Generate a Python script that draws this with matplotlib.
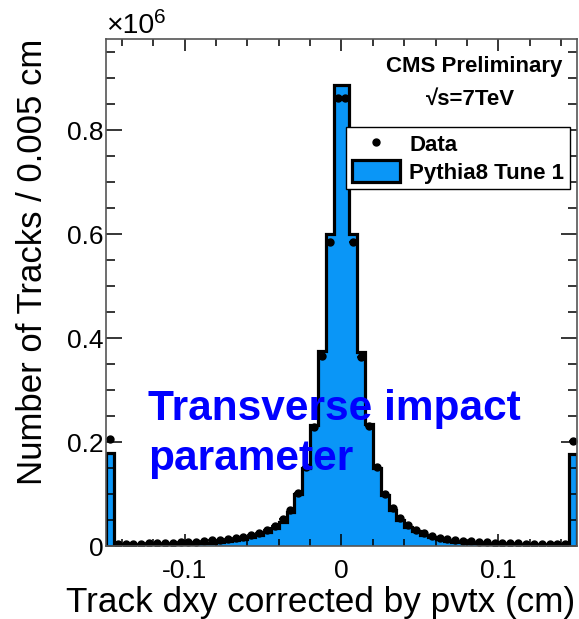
import numpy as np
import matplotlib
matplotlib.use('Agg')
import matplotlib.pyplot as plt
from matplotlib.ticker import MultipleLocator, FuncFormatter
from matplotlib.patches import Patch
from matplotlib.lines import Line2D

plt.rcParams['font.family'] = ['Liberation Sans', 'DejaVu Sans']
plt.rcParams['axes.unicode_minus'] = False

# binning: 60 bins of 0.005 cm, under/overflow folded into the edge bins
edges = np.linspace(-0.15, 0.15, 61)

# number of tracks per bin, in units of 10^6
mc_counts = [
    0.178, 0.0020, 0.0020, 0.0022, 0.0024, 0.0026, 0.0029, 0.0032, 0.0036, 0.0040,
    0.0045, 0.0050, 0.0057, 0.0065, 0.0075, 0.0090, 0.0110, 0.0135, 0.0170, 0.0210,
    0.0270, 0.0350, 0.0470, 0.0660, 0.1000, 0.1500, 0.2320, 0.3750, 0.6000, 0.8860,
    0.8860, 0.6000, 0.3730, 0.2340, 0.1500, 0.0990, 0.0700, 0.0500, 0.0370, 0.0280,
    0.0220, 0.0170, 0.0130, 0.0105, 0.0085, 0.0072, 0.0060, 0.0052, 0.0045, 0.0040,
    0.0036, 0.0032, 0.0029, 0.0026, 0.0024, 0.0022, 0.0021, 0.0020, 0.0020, 0.177,
]
data_counts = [
    0.205, 0.0040, 0.0042, 0.0045, 0.0048, 0.0050, 0.0055, 0.0060, 0.0065, 0.0070,
    0.0078, 0.0085, 0.0095, 0.0110, 0.0120, 0.0135, 0.0155, 0.0180, 0.0210, 0.0250,
    0.0310, 0.0390, 0.0510, 0.0690, 0.1020, 0.1520, 0.2280, 0.3650, 0.5850, 0.8620,
    0.8620, 0.5850, 0.3640, 0.2300, 0.1510, 0.1000, 0.0730, 0.0540, 0.0400, 0.0310,
    0.0250, 0.0200, 0.0160, 0.0135, 0.0115, 0.0100, 0.0088, 0.0078, 0.0070, 0.0064,
    0.0058, 0.0054, 0.0050, 0.0047, 0.0045, 0.0043, 0.0042, 0.0041, 0.0040, 0.202,
]

fill_blue = '#0a96f7'
frame_col = '#555555'

fig = plt.figure(figsize=(5.79, 6.19), dpi=100)
ax = fig.add_axes([0.1831, 0.1179, 0.8134, 0.8191])

centers = 0.5 * (edges[:-1] + edges[1:])
ax.stairs(mc_counts, edges, fill=True, color=fill_blue, zorder=1)
ax.stairs(mc_counts, edges, color='black', lw=2.3, zorder=2)
ax.errorbar(centers, data_counts, xerr=0.0025, fmt='o', color='black',
            ms=5, elinewidth=1.2, capsize=0, zorder=3)

ax.set_xlim(-0.15, 0.15)
ax.set_ylim(0, 0.975)

ax.xaxis.set_major_locator(MultipleLocator(0.1))
ax.xaxis.set_minor_locator(MultipleLocator(0.02))
ax.yaxis.set_major_locator(MultipleLocator(0.2))
ax.yaxis.set_minor_locator(MultipleLocator(0.05))
fmt = FuncFormatter(lambda v, pos: '%g' % round(v, 3))
ax.xaxis.set_major_formatter(fmt)
ax.yaxis.set_major_formatter(fmt)

ax.tick_params(which='both', direction='in', top=True, right=True,
               colors='black', labelsize=19, width=1.1)
ax.tick_params(axis='y', which='major', length=11.5, pad=2)
ax.tick_params(axis='y', which='minor', length=6.5)
ax.tick_params(axis='x', which='major', length=8.5, pad=9)
ax.tick_params(axis='x', which='minor', length=5)
for side in ax.spines.values():
    side.set_color(frame_col)
    side.set_linewidth(1.2)
    side.set_zorder(5)

ax.set_xlabel('Track dxy corrected by pvtx (cm)', fontsize=25.3, loc='right')
ax.xaxis.set_label_coords(0.996, -0.079)
ax.set_ylabel('Number of Tracks / 0.005 cm', fontsize=25, loc='top')
ax.yaxis.set_label_coords(-0.122, 1.0)

# axis multiplier above the y axis
ax.text(0.0, 1.0118, '×10', transform=ax.transAxes,
        fontsize=20.5, ha='left', va='baseline')
ax.text(0.102, 1.0316, '6', transform=ax.transAxes,
        fontsize=15, ha='left', va='baseline')

ax.text(0.781, 0.945, 'CMS Preliminary', transform=ax.transAxes,
        fontsize=16, fontweight='bold', ha='center', va='center')
ax.text(0.775, 0.880, '√s=7TeV', transform=ax.transAxes,
        fontsize=16, fontweight='bold', ha='center', va='center')

handles = [
    Line2D([], [], marker='o', color='black', ls='none', ms=5),
    Patch(facecolor=fill_blue, edgecolor='black', lw=2.3),
]
leg = ax.legend(handles, ['Data', 'Pythia8 Tune 1'], loc='upper right',
                bbox_to_anchor=(0.985, 0.826), fancybox=False, framealpha=1,
                edgecolor='black', prop={'size': 16, 'weight': 'bold'},
                borderaxespad=0, borderpad=0.25, handlelength=2.2,
                handleheight=1.1, handletextpad=0.4, labelspacing=0.2)
leg.get_frame().set_linewidth(1.0)

ax.text(0.089, 0.2485, 'Transverse impact', transform=ax.transAxes,
        fontsize=30.5, fontweight='bold', color='#0000ff', ha='left',
        va='baseline', zorder=6)
ax.text(0.089, 0.1499, 'parameter', transform=ax.transAxes,
        fontsize=30.5, fontweight='bold', color='#0000ff', ha='left',
        va='baseline', zorder=6)

fig.savefig('out.png', dpi=100)
